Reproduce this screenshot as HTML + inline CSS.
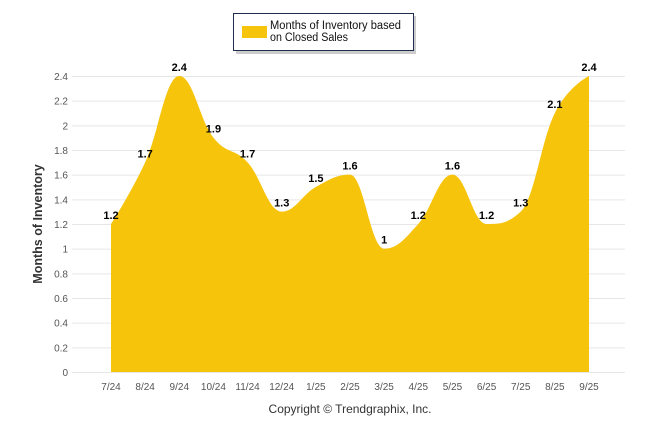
<!DOCTYPE html>
<html><head><meta charset="utf-8"><style>
body{margin:0;background:#fff;font-family:"Liberation Sans",Arial,sans-serif}
svg text{font-family:"Liberation Sans",Arial,sans-serif}
</style></head><body>
<svg width="646" height="434">
<g id="grid"></g>
<g id="yt"></g>
<g id="xt"></g>
<path id="area" fill="#f7c40c"/>
<g id="lbl"></g>
<text transform="translate(42,224) rotate(-90)" text-anchor="middle" font-size="12.5" font-weight="bold" fill="#333">Months of Inventory</text>
<text x="350" y="413" text-anchor="middle" font-size="12" fill="#333">Copyright © Trendgraphix, Inc.</text>
<g>
<rect x="236" y="16" width="180" height="38" fill="#999" opacity="0.5"/>
<rect x="233.5" y="13.5" width="180" height="37" fill="#fff" stroke="#1f2d4f" stroke-width="1"/>
<rect x="242" y="26" width="25" height="12" fill="#f7c40c"/>
<text x="270" y="29" font-size="11.5" textLength="131" lengthAdjust="spacingAndGlyphs" fill="#111">Months of Inventory based</text>
<text x="270" y="41" font-size="11.5" textLength="78" lengthAdjust="spacingAndGlyphs" fill="#111">on Closed Sales</text>
</g>
</svg>
<script>
const categories=["7/24","8/24","9/24","10/24","11/24","12/24","1/25","2/25","3/25","4/25","5/25","6/25","7/25","8/25","9/25"];
const values=[1.2,1.7,2.4,1.9,1.7,1.3,1.5,1.6,1,1.2,1.6,1.2,1.3,2.1,2.4];
const yTicks=[0,0.2,0.4,0.6,0.8,1,1.2,1.4,1.6,1.8,2,2.2,2.4];
const NS="http://www.w3.org/2000/svg";
const x0=111,x1=589,y0=372,y1=76,ymax=2.4;
const X=i=>x0+(x1-x0)*i/(categories.length-1);
const Y=v=>y0-(y0-y1)*v/ymax;
function mk(t,a,p,txt){const e=document.createElementNS(NS,t);for(const k in a)e.setAttribute(k,a[k]);if(txt!==undefined)e.textContent=txt;p.appendChild(e);return e;}
const grid=document.getElementById('grid'),yt=document.getElementById('yt'),xt=document.getElementById('xt'),lbl=document.getElementById('lbl');
yTicks.forEach(v=>{
 const l=mk('line',{x1:72,x2:625,y1:Y(v)+0.5,y2:Y(v)+0.5,stroke:'#e6e6e6'},grid);
 
 
 const t=mk('text',{x:68,y:Y(v)+4,'text-anchor':'end','font-size':'10',fill:'#555'},yt,String(v));
 
 
});
categories.forEach((c,i)=>{
 const t=mk('text',{x:X(i),y:390,'text-anchor':'middle','font-size':'10',fill:'#555'},xt,c);
 
 
});
const pts=values.map((v,i)=>[X(i),Y(v)]);
let d=`M${pts[0][0]},${y0} L${pts[0][0]},${pts[0][1]}`;
const sm=1.5,den=2.5;
const ctrl=[];
for(let i=1;i<pts.length-1;i++){
 const [px,py]=pts[i],[lx,ly]=pts[i-1],[nx,ny]=pts[i+1];
 let lcx=(sm*px+lx)/den,lcy=(sm*py+ly)/den,rcx=(sm*px+nx)/den,rcy=(sm*py+ny)/den;
 let corr=0;if(rcx!==lcx)corr=((rcy-lcy)*(rcx-px))/(rcx-lcx)+py-rcy;
 lcy+=corr;rcy+=corr;
 if(lcy>py&&lcy>ly){lcy=Math.max(py,ly);rcy=2*py-lcy;}else if(lcy<py&&lcy<ly){lcy=Math.min(py,ly);rcy=2*py-lcy;}
 if(rcy>py&&rcy>ny){rcy=Math.max(py,ny);lcy=2*py-rcy;}else if(rcy<py&&rcy<ny){rcy=Math.min(py,ny);lcy=2*py-rcy;}
 ctrl[i]={l:[lcx,lcy],r:[rcx,rcy]};
}
for(let i=1;i<pts.length;i++){
 const a=ctrl[i-1]?ctrl[i-1].r:pts[i-1];
 const b=ctrl[i]?ctrl[i].l:pts[i];
 d+=` C${a[0]},${a[1]} ${b[0]},${b[1]} ${pts[i][0]},${pts[i][1]}`;
}
d+=` L${pts[pts.length-1][0]},${y0} Z`;
document.getElementById('area').setAttribute('d',d);
values.forEach((v,i)=>{
 const t=mk('text',{x:X(i),y:Y(v)-5,'text-anchor':'middle','font-size':'11','font-weight':'bold',fill:'#000'},lbl,String(v));
 
 
});
</script>
</body></html>
